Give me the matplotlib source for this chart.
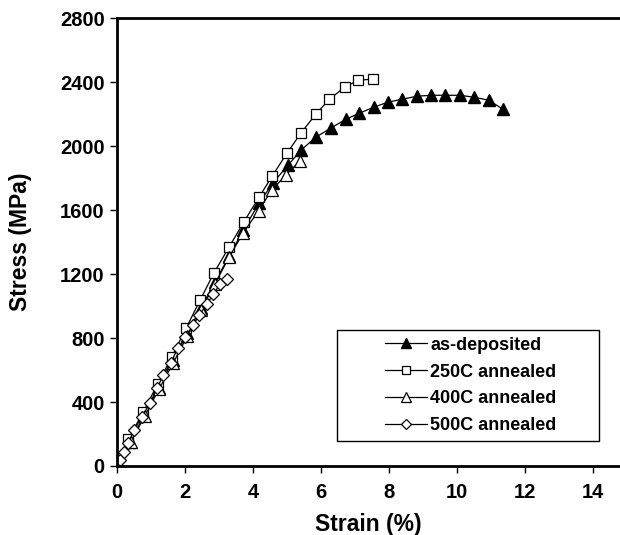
import matplotlib.pyplot as plt
from matplotlib.patches import Rectangle

plt.rcParams['font.family'] = ['Liberation Sans', 'DejaVu Sans']
plt.rcParams['font.weight'] = 'bold'

# as-deposited
x_dep = [0.0, 0.38, 0.8, 1.22, 1.64, 2.06, 2.47, 2.88, 3.29, 3.71, 4.18, 4.58,
         5.03, 5.41, 5.85, 6.29, 6.73, 7.13, 7.56, 7.97, 8.37, 8.82, 9.24,
         9.65, 10.09, 10.5, 10.94, 11.35]
y_dep = [0, 150, 320, 490, 660, 830, 990, 1150, 1310, 1475, 1644, 1769,
         1881, 1975, 2056, 2113, 2168, 2206, 2244, 2275, 2292, 2312, 2318,
         2318, 2318, 2306, 2287, 2231]

# 250C annealed
x_250 = [0.0, 0.33, 0.77, 1.19, 1.61, 2.03, 2.44, 2.85, 3.30, 3.72, 4.17,
         4.57, 4.99, 5.42, 5.84, 6.24, 6.71, 7.10, 7.52]
y_250 = [0, 167, 340, 512, 683, 862, 1037, 1208, 1371, 1523, 1679,
         1815, 1954, 2085, 2198, 2292, 2371, 2412, 2419]

# 400C annealed
x_400 = [0.0, 0.4, 0.82, 1.23, 1.65, 2.06, 2.47, 2.88, 3.30, 3.70, 4.16,
         4.55, 4.96, 5.38]
y_400 = [0, 150, 315, 480, 645, 810, 975, 1140, 1308, 1454, 1596,
         1725, 1819, 1908]

# 500C annealed
x_500 = [0.0, 0.07, 0.19, 0.33, 0.5, 0.73, 0.97, 1.17, 1.36, 1.58, 1.78,
         2.0, 2.23, 2.42, 2.64, 2.83, 3.03, 3.23]
y_500 = [0, 37, 90, 146, 225, 308, 396, 485, 569, 646, 735,
         804, 881, 944, 1012, 1075, 1137, 1167]

fig = plt.figure(figsize=(6.2, 5.35), dpi=100)
ax = fig.add_axes([0.189, 0.129, 0.811, 0.837])

lw = 0.9
ax.plot(x_dep, y_dep, color='black', lw=lw, marker='^', ms=8.5,
        mfc='black', mec='black', label='as-deposited')
ax.plot(x_250, y_250, color='black', lw=lw, marker='s', ms=7.5,
        mfc='white', mec='black', mew=0.9, label='250C annealed')
ax.plot(x_400, y_400, color='black', lw=lw, marker='^', ms=8.5,
        mfc='white', mec='black', mew=0.9, label='400C annealed')
ax.plot(x_500, y_500, color='black', lw=lw, marker='D', ms=6,
        mfc='white', mec='black', mew=0.9, label='500C annealed')

ax.set_xlim(0, 14.8)
ax.set_ylim(0, 2800)
ax.set_xticks(range(0, 15, 2))
ax.set_yticks(range(0, 2801, 400))
ax.spines['right'].set_visible(False)
for s in ['left', 'bottom', 'top']:
    ax.spines[s].set_linewidth(2)
ax.tick_params(direction='out', length=5, width=1, labelsize=14.5)
ax.tick_params(axis='x', pad=7)
ax.tick_params(axis='y', pad=4)
for lab in ax.get_xticklabels() + ax.get_yticklabels():
    lab.set_fontweight('bold')

ax.set_xlabel('Strain (%)', fontsize=16.5, fontweight='bold')
ax.xaxis.set_label_coords(0.5, -0.105)
ax.set_ylabel('Stress (MPa)', fontsize=16.5, fontweight='bold')
ax.yaxis.set_label_coords(-0.17, 0.5)

# legend box drawn separately, entries sit right of its left edge
ax.add_patch(Rectangle((0.437, 0.056), 0.521, 0.248, transform=ax.transAxes,
                       facecolor='white', edgecolor='black', lw=1, zorder=4))
leg = ax.legend(loc='upper left', bbox_to_anchor=(0.533, 0.289),
                fontsize=13, frameon=False, handlelength=2.3,
                handletextpad=0.2, borderpad=0, borderaxespad=0,
                labelspacing=0.55, markerscale=0.8)
leg.set_zorder(5)
for t in leg.get_texts():
    t.set_fontweight('bold')

fig.savefig('out.png', dpi=100)
